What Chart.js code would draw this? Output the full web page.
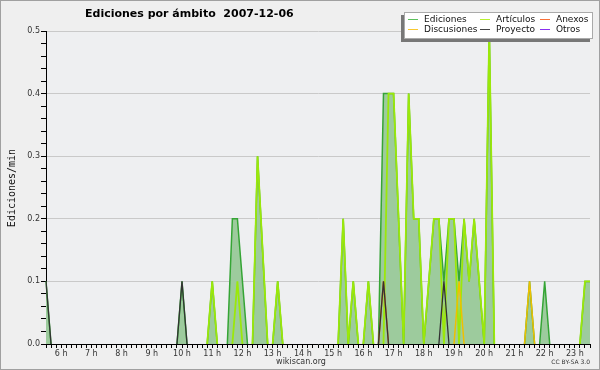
<!DOCTYPE html>
<html>
<head>
<meta charset="utf-8">
<script src="https://cdn.jsdelivr.net/npm/chart.js@4.4.0/dist/chart.umd.min.js"></script>
<style>
  html, body { margin: 0; padding: 0; background: #efefef; }
  canvas { display: block; }
</style>
</head>
<body>
<canvas id="chart" width="600" height="370"></canvas>
<script>
// Ediciones por ámbito, 2007-12-06 — one point every 10 minutes, 05:30 .. 23:30

const chartTitle = "Ediciones por ámbito  2007-12-06";
const yTitle = "Ediciones/min";

// x slots (10 minute steps)
const slots = [];
for (let m = 330; m <= 1410; m += 10) {
    const h = Math.floor(m / 60), mm = m % 60;
    slots.push(h + ":" + (mm < 10 ? "0" : "") + mm);
}

// each row = 12 slots (2 hours), first row starts 05:30
const ediciones = [
    0.1, 0, 0, 0, 0, 0, 0, 0, 0, 0, 0, 0,
    0, 0, 0, 0, 0, 0, 0, 0, 0, 0, 0, 0,
    0, 0, 0, 0.1, 0, 0, 0, 0, 0, 0.1, 0, 0,
    0, 0.2, 0.2, 0.1, 0, 0, 0.3, 0.15, 0, 0, 0.1, 0,
    0, 0, 0, 0, 0, 0, 0, 0, 0, 0, 0, 0.2,
    0, 0.1, 0, 0, 0.1, 0, 0, 0.4, 0.4, 0.4, 0.2, 0,
    0.4, 0.2, 0.2, 0, 0.1, 0.2, 0.2, 0.1, 0.2, 0.2, 0.1, 0.2,
    0.1, 0.2, 0.1, 0, 0.5, 0, 0, 0, 0, 0, 0, 0,
    0.1, 0, 0, 0.1, 0, 0, 0, 0, 0, 0, 0, 0.1,
    0.1
];
const articulos = [
    0, 0, 0, 0, 0, 0, 0, 0, 0, 0, 0, 0,
    0, 0, 0, 0, 0, 0, 0, 0, 0, 0, 0, 0,
    0, 0, 0, 0, 0, 0, 0, 0, 0, 0.1, 0, 0,
    0, 0, 0.1, 0, 0, 0, 0.3, 0.15, 0, 0, 0.1, 0,
    0, 0, 0, 0, 0, 0, 0, 0, 0, 0, 0, 0.2,
    0, 0.1, 0, 0, 0.1, 0, 0, 0, 0.4, 0.4, 0.2, 0,
    0.4, 0.2, 0.2, 0, 0.1, 0.2, 0.2, 0, 0.2, 0.2, 0, 0.2,
    0.1, 0.2, 0.1, 0, 0.5, 0, 0, 0, 0, 0, 0, 0,
    0, 0, 0, 0, 0, 0, 0, 0, 0, 0, 0, 0.1,
    0.1
];
const anexos = [
    0, 0, 0, 0, 0, 0, 0, 0, 0, 0, 0, 0,
    0, 0, 0, 0, 0, 0, 0, 0, 0, 0, 0, 0,
    0, 0, 0, 0, 0, 0, 0, 0, 0, 0, 0, 0,
    0, 0, 0, 0, 0, 0, 0, 0, 0, 0, 0, 0,
    0, 0, 0, 0, 0, 0, 0, 0, 0, 0, 0, 0,
    0, 0, 0, 0, 0, 0, 0, 0.1, 0, 0, 0, 0,
    0, 0, 0, 0, 0, 0, 0, 0, 0, 0, 0, 0,
    0, 0, 0, 0, 0, 0, 0, 0, 0, 0, 0, 0,
    0, 0, 0, 0, 0, 0, 0, 0, 0, 0, 0, 0,
    0
];
const discusiones = [
    0, 0, 0, 0, 0, 0, 0, 0, 0, 0, 0, 0,
    0, 0, 0, 0, 0, 0, 0, 0, 0, 0, 0, 0,
    0, 0, 0, 0, 0, 0, 0, 0, 0, 0, 0, 0,
    0, 0, 0, 0, 0, 0, 0, 0, 0, 0, 0, 0,
    0, 0, 0, 0, 0, 0, 0, 0, 0, 0, 0, 0,
    0, 0, 0, 0, 0, 0, 0, 0, 0, 0, 0, 0,
    0, 0, 0, 0, 0, 0, 0, 0, 0, 0, 0.1, 0,
    0, 0, 0, 0, 0, 0, 0, 0, 0, 0, 0, 0,
    0.1, 0, 0, 0, 0, 0, 0, 0, 0, 0, 0, 0,
    0
];
const proyecto = [
    0.1, 0, 0, 0, 0, 0, 0, 0, 0, 0, 0, 0,
    0, 0, 0, 0, 0, 0, 0, 0, 0, 0, 0, 0,
    0, 0, 0, 0.1, 0, 0, 0, 0, 0, 0, 0, 0,
    0, 0, 0, 0, 0, 0, 0, 0, 0, 0, 0, 0,
    0, 0, 0, 0, 0, 0, 0, 0, 0, 0, 0, 0,
    0, 0, 0, 0, 0, 0, 0, 0.1, 0, 0, 0, 0,
    0, 0, 0, 0, 0, 0, 0, 0.1, 0, 0, 0, 0,
    0, 0, 0, 0, 0, 0, 0, 0, 0, 0, 0, 0,
    0, 0, 0, 0, 0, 0, 0, 0, 0, 0, 0, 0,
    0
];
const otros = [
    0, 0, 0, 0, 0, 0, 0, 0, 0, 0, 0, 0,
    0, 0, 0, 0, 0, 0, 0, 0, 0, 0, 0, 0,
    0, 0, 0, 0, 0, 0, 0, 0, 0, 0, 0, 0,
    0, 0, 0, 0, 0, 0, 0, 0, 0, 0, 0, 0,
    0, 0, 0, 0, 0, 0, 0, 0, 0, 0, 0, 0,
    0, 0, 0, 0, 0, 0, 0, 0, 0, 0, 0, 0,
    0, 0, 0, 0, 0, 0, 0, 0, 0, 0, 0, 0,
    0, 0, 0, 0, 0, 0, 0, 0, 0, 0, 0, 0,
    0, 0, 0, 0, 0, 0, 0, 0, 0, 0, 0, 0,
    0
];

// legend, in the reference's 3 x 2 layout
const legendNames = ["Ediciones", "Artículos", "Anexos", "Discusiones", "Proyecto", "Otros"];
const legendColors = ["#5cc05c", "#b8f030", "#f87038", "#f8c830", "#444444", "#8a30f0"];

function isMajor(v) {
    return Math.abs(v * 10 - Math.round(v * 10)) < 1e-6;
}

// hide the flat runs along zero so they don't paint over the axis
const hideZero = {
    borderColor: function (ctx) {
        return (ctx.p0.parsed.y === 0 && ctx.p1.parsed.y === 0) ? "rgba(0,0,0,0)" : undefined;
    }
};

function line(label, data, color, width) {
    return {
        label: label,
        data: data,
        borderColor: color,
        borderWidth: width,
        pointRadius: 0,
        tension: 0,
        fill: false,
        segment: hideZero
    };
}

const extras = {
    id: "extras",
    beforeDraw: function (chart) {
        const c = chart.ctx;
        c.save();
        c.fillStyle = "#efefef";
        c.fillRect(0, 0, chart.width, chart.height);
        const a = chart.chartArea;
        c.fillStyle = "#eeeff1";
        c.fillRect(a.left, a.top, a.right - a.left, a.bottom - a.top);
        c.restore();
    },
    afterDraw: function (chart) {
        const c = chart.ctx;
        c.save();

        // title
        c.fillStyle = "#000";
        c.font = "bold 11px 'DejaVu Sans'";
        c.textAlign = "left";
        c.textBaseline = "alphabetic";
        c.fillText(chartTitle, 85, 17);

        // y title
        c.save();
        c.translate(12, 188);
        c.rotate(-Math.PI / 2);
        c.font = "10px 'DejaVu Sans Mono'";
        c.textAlign = "center";
        c.textBaseline = "middle";
        c.fillStyle = "#111";
        c.fillText(yTitle, 0, 0);
        c.restore();

        // footer
        c.font = "8px 'DejaVu Sans'";
        c.fillStyle = "#333";
        c.textAlign = "center";
        c.fillText("wikiscan.org", 301, 364);
        c.font = "6px 'DejaVu Sans'";
        c.textAlign = "right";
        c.fillText("CC BY-SA 3.0", 590, 364);

        // legend box with shadow
        c.fillStyle = "#777";
        c.fillRect(401, 15, 189, 27);
        c.fillStyle = "#fff";
        c.fillRect(404, 12, 189, 27);
        c.strokeStyle = "#aaa";
        c.lineWidth = 1;
        c.strokeRect(404.5, 12.5, 188, 26);

        const colX = [408, 480, 540];
        const rowY = [19.5, 29.5];
        c.font = "9px 'DejaVu Sans'";
        c.textAlign = "left";
        c.textBaseline = "middle";
        legendNames.forEach(function (name, i) {
            const x = colX[i % 3], y = rowY[Math.floor(i / 3)];
            c.strokeStyle = legendColors[i];
            c.lineWidth = 1;
            c.beginPath();
            c.moveTo(x, y);
            c.lineTo(x + 10, y);
            c.stroke();
            c.fillStyle = "#111";
            c.fillText(name, x + 16, y);
        });

        // outer frame
        c.strokeStyle = "#a0a0a0";
        c.strokeRect(0.5, 0.5, chart.width - 1, chart.height - 1);
        c.restore();
    }
};

new Chart(document.getElementById("chart"), {
    type: "line",
    data: {
        labels: slots,
        datasets: [
            line("Otros", otros, "#9933ee", 1.5),
            line("Proyecto", proyecto, "#333333", 1.3),
            line("Discusiones", discusiones, "#eec000", 1.5),
            line("Anexos", anexos, "#e07020", 1.5),
            line("Artículos", articulos, "#9be80a", 1.8),
            Object.assign(line("Ediciones", ediciones, "#35a535", 1.5), {
                fill: "origin",
                backgroundColor: "#9dcb9d"
            })
        ]
    },
    plugins: [extras],
    options: {
        responsive: false,
        animation: false,
        devicePixelRatio: 1,
        layout: { padding: { top: 31, right: 10, left: 0, bottom: 0 } },
        plugins: {
            legend: { display: false },
            tooltip: { enabled: false }
        },
        scales: {
            x: {
                type: "category",
                offset: false,
                z: 1,
                afterFit: function (s) { s.height = 26; },
                ticks: {
                    autoSkip: false,
                    maxRotation: 0,
                    minRotation: 0,
                    padding: 1,
                    color: "#333",
                    font: { family: "DejaVu Sans", size: 8 },
                    callback: function (v) {
                        const l = slots[v];
                        return l.endsWith(":00") ? parseInt(l, 10) + " h" : "";
                    }
                },
                grid: { drawOnChartArea: false, tickLength: 4, tickColor: "#000" },
                border: { color: "#000" }
            },
            y: {
                min: 0,
                max: 0.5,
                afterFit: function (s) { s.width = 46; },
                ticks: {
                    stepSize: 0.02,
                    autoSkip: false,
                    padding: 1,
                    color: "#333",
                    font: { family: "DejaVu Sans", size: 8 },
                    callback: function (v) { return isMajor(v) ? v.toFixed(1) : ""; }
                },
                grid: {
                    color: function (ctx) {
                        return isMajor(ctx.tick.value) && ctx.tick.value > 0 ? "#c9c9c9" : "rgba(0,0,0,0)";
                    },
                    tickColor: "#000",
                    tickLength: 5
                },
                border: { color: "#000" }
            }
        }
    }
});
</script>
</body>
</html>
